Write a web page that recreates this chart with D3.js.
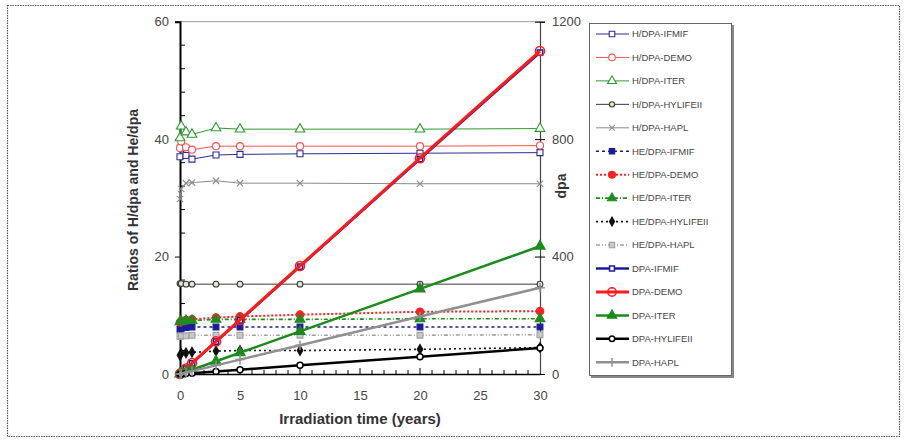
<!DOCTYPE html>
<html><head><meta charset="utf-8">
<script src="https://cdn.jsdelivr.net/npm/d3@7"></script>
<style>body{margin:0;background:#fff;}svg{display:block;font-family:"Liberation Sans",Arial,sans-serif;}</style>
</head><body><svg id="c" width="906" height="441"></svg>
<script>
// ---- data ----
const times = [0, 0.1, 0.5, 1, 3, 5, 10, 20, 30];
const xTicks = [0, 5, 10, 15, 20, 25, 30];
const leftTicks = [0, 20, 40, 60];
const rightTicks = [0, 400, 800, 1200];

const hdpaIFMIF = [37.0, 38.5, 37.2, 36.6, 37.3, 37.4, 37.5, 37.6, 37.7];
const hdpaDEMO  = [38.5, 39.6, 38.6, 38.2, 38.8, 38.8, 38.8, 38.8, 38.9];
const hdpaITER  = [40.2, 42.2, 41.2, 40.8, 41.9, 41.7, 41.7, 41.7, 41.8];
const hdpaHYL   = [15.4, 15.4, 15.3, 15.3, 15.3, 15.3, 15.3, 15.3, 15.3];
const hdpaHAPL  = [29.8, 31.5, 32.5, 32.6, 32.9, 32.5, 32.5, 32.4, 32.4];

const hedpaIFMIF = [7.6, 7.8, 7.9, 8.0, 8.0, 8.0, 8.0, 8.0, 8.0];
const hedpaDEMO  = [8.8, 9.0, 9.2, 9.3, 9.6, 9.8, 10.1, 10.6, 10.7];
const hedpaITER  = [8.9, 9.0, 9.1, 9.1, 9.3, 9.3, 9.3, 9.4, 9.4];
const hedpaHYL   = [3.2, 3.5, 3.6, 3.7, 3.9, 4.0, 4.0, 4.2, 4.5];
const hedpaHAPL  = [6.4, 6.5, 6.5, 6.6, 6.6, 6.6, 6.6, 6.6, 6.7];

const dpaIFMIF = [0, 3.6, 18, 36, 110, 183, 366, 732, 1095];
const dpaDEMO  = [0, 3.7, 18.5, 37, 111, 184, 368, 735, 1100];
const dpaITER  = [0, 1.45, 7.3, 14.5, 43.5, 72.5, 145, 290, 435];
const dpaHYL   = [0, 0.3, 1.5, 2.95, 8.9, 14.8, 29.5, 59, 88.5];
const dpaHAPL  = [0, 1, 4.9, 9.8, 29.4, 49, 98, 196, 294];

const seriesNames = ["H/DPA-IFMIF","H/DPA-DEMO","H/DPA-ITER","H/DPA-HYLIFEII","H/DPA-HAPL",
  "HE/DPA-IFMIF","HE/DPA-DEMO","HE/DPA-ITER","HE/DPA-HYLIFEII","HE/DPA-HAPL",
  "DPA-IFMIF","DPA-DEMO","DPA-ITER","DPA-HYLIFEII","DPA-HAPL"];

// ---- styles ----
const series = [
  {v:hdpaIFMIF, axis:"L", color:"#2b2b9a", w:1,   dash:null,   sym:d3.symbolSquare,   size:36, fill:"#fff"},
  {v:hdpaDEMO,  axis:"L", color:"#ff5050", w:1,   dash:null,   sym:d3.symbolCircle,   size:40, fill:"#fff"},
  {v:hdpaITER,  axis:"L", color:"#2e9a2e", w:1,   dash:null,   sym:d3.symbolTriangle, size:40, fill:"#fff"},
  {v:hdpaHYL,   axis:"L", color:"#3a3a3a", w:1,   dash:null,   sym:d3.symbolCircle,   size:26, fill:"#dfe8cf"},
  {v:hdpaHAPL,  axis:"L", color:"#8a8a8a", w:1,   dash:null,   sym:d3.symbolTimes,    size:28, fill:"none"},
  {v:hedpaIFMIF,axis:"L", color:"#1a1a9a", w:1.6, dash:"3,3",  sym:d3.symbolSquare,   size:34, fill:"#1a1a9a"},
  {v:hedpaDEMO, axis:"L", color:"#ff2020", w:2,   dash:"2,2",  sym:d3.symbolCircle,   size:45, fill:"#ff2020"},
  {v:hedpaITER, axis:"L", color:"#1e8c1e", w:1.6, dash:"4,2,1,2", sym:d3.symbolTriangle, size:42, fill:"#1e8c1e"},
  {v:hedpaHYL,  axis:"L", color:"#111",    w:1.6, dash:"2,3",  sym:d3.symbolDiamond,  size:28, fill:"#111"},
  {v:hedpaHAPL, axis:"L", color:"#a0a0a0", w:1.6, dash:"4,2,1,2,1,2", sym:d3.symbolSquare, size:34, fill:"#c8c8c8"},
  {v:dpaIFMIF,  axis:"R", color:"#1a1aa0", w:2.5, dash:null,   sym:d3.symbolSquare,   size:28, fill:"#fff"},
  {v:dpaDEMO,   axis:"R", color:"#ff1a1a", w:3,   dash:null,   sym:d3.symbolCircle,   size:65, fill:"none"},
  {v:dpaITER,   axis:"R", color:"#1a8c1a", w:2.5, dash:null,   sym:d3.symbolTriangle, size:40, fill:"#1a8c1a"},
  {v:dpaHYL,    axis:"R", color:"#000",    w:2.5, dash:null,   sym:d3.symbolCircle,   size:28, fill:"#fff"},
  {v:dpaHAPL,   axis:"R", color:"#909090", w:2.5, dash:null,   sym:d3.symbolPlus,     size:32, fill:"none"}
];

const svg = d3.select("#c");
const L = 180, R = 540, T = 21.7, B = 374;
const x = d3.scaleLinear().domain([0,30]).range([L,R]);
const yL = d3.scaleLinear().domain([0,60]).range([B,T]);
const yR = d3.scaleLinear().domain([0,1200]).range([B,T]);

// outer frame
svg.append("rect").attr("x",7.5).attr("y",5.5).attr("width",892).attr("height",431)
  .attr("fill","none").attr("stroke","#555").attr("stroke-width",1.2).attr("stroke-dasharray","1.5,1");

// top border of plot
svg.append("line").attr("x1",L).attr("x2",R).attr("y1",T).attr("y2",T).attr("stroke","#999").attr("stroke-width",1);

// left axis
const gL = svg.append("g").attr("transform",`translate(${L},0)`);
gL.call(d3.axisLeft(yL).tickValues(leftTicks).tickSize(5).tickPadding(6).tickFormat(d3.format("d")));
gL.select(".domain").attr("stroke","#000").attr("stroke-width",2);
gL.selectAll("text").attr("font-size",13).attr("fill","#444");
gL.append("g").selectAll("line").data(d3.range(0,61,4).filter(d=>d%20!==0)).join("line")
  .attr("x1",0).attr("x2",5).attr("y1",d=>yL(d)).attr("y2",d=>yL(d)).attr("stroke","#000");

// right axis
const gR = svg.append("g").attr("transform",`translate(${R},0)`);
gR.call(d3.axisRight(yR).tickValues(rightTicks).tickSize(5).tickPadding(7).tickFormat(d3.format("d")));
gR.select(".domain").attr("stroke","#444").attr("stroke-width",1.2);
gR.selectAll(".tick line").attr("x1",-5);
gR.selectAll("text").attr("font-size",13).attr("fill","#444");

// bottom axis
const gB = svg.append("g").attr("transform",`translate(0,${B})`);
gB.call(d3.axisBottom(x).tickValues(xTicks).tickSize(0).tickPadding(17).tickFormat(d3.format("d")));
gB.select(".domain").attr("stroke","#000").attr("stroke-width",1.5);
gB.selectAll("text").attr("font-size",13).attr("fill","#444");
gB.append("g").selectAll("line").data(d3.range(1,30)).join("line")
  .attr("x1",d=>x(d)).attr("x2",d=>x(d)).attr("y1",0).attr("y2",d=>d%5===0?-6:-4).attr("stroke","#000");

// axis titles
svg.append("text").attr("transform","translate(138,200) rotate(-90)").attr("text-anchor","middle")
  .attr("font-size",14).attr("font-weight","bold").attr("fill","#333").text("Ratios of H/dpa and He/dpa");
svg.append("text").attr("transform","translate(566,186) rotate(-90)").attr("text-anchor","middle")
  .attr("font-size",14).attr("font-weight","bold").attr("fill","#333").text("dpa");
svg.append("text").attr("x",360).attr("y",424).attr("text-anchor","middle")
  .attr("font-size",15).attr("font-weight","bold").attr("fill","#333").text("Irradiation time (years)");

// series
const plot = svg.append("g");
function drawMarker(g, s, cx, cy, scale){
  g.append("path").attr("d", d3.symbol().type(s.sym).size(s.size*(scale||1))())
    .attr("transform",`translate(${cx},${cy})`)
    .attr("fill", s.fill).attr("stroke", s.color).attr("stroke-width", s.axis==="R"?1.5:1.1);
}
series.forEach(s=>{
  const y = s.axis==="L" ? yL : yR;
  const pts = times.map((t,i)=>[t, s.v[i]]);
  const line = d3.line().x(d=>x(d[0])).y(d=>y(d[1]));
  plot.append("path").datum(pts).attr("d", line).attr("fill","none")
    .attr("stroke", s.color).attr("stroke-width", s.w)
    .attr("stroke-dasharray", s.dash);
  const g = plot.append("g");
  pts.forEach(d=>drawMarker(g, s, x(d[0]), y(d[1])));
});

// legend
const lg = svg.append("g");
lg.append("rect").attr("x",591).attr("y",25).attr("width",143).attr("height",353).attr("fill","#888");
lg.append("rect").attr("x",589.5).attr("y",23.5).attr("width",142).attr("height",352)
  .attr("fill","#fff").attr("stroke","#666").attr("stroke-width",1);
series.forEach((s,i)=>{
  const yy = 34 + i*23.45;
  lg.append("line").attr("x1",596).attr("x2",629).attr("y1",yy).attr("y2",yy)
    .attr("stroke",s.color).attr("stroke-width",s.w).attr("stroke-dasharray",s.dash);
  drawMarker(lg, s, 612, yy, 0.85);
  lg.append("text").attr("x",632).attr("y",yy+3.3).attr("font-size",9.5).attr("fill","#444")
    .text(seriesNames[i]);
});
</script></body></html>
